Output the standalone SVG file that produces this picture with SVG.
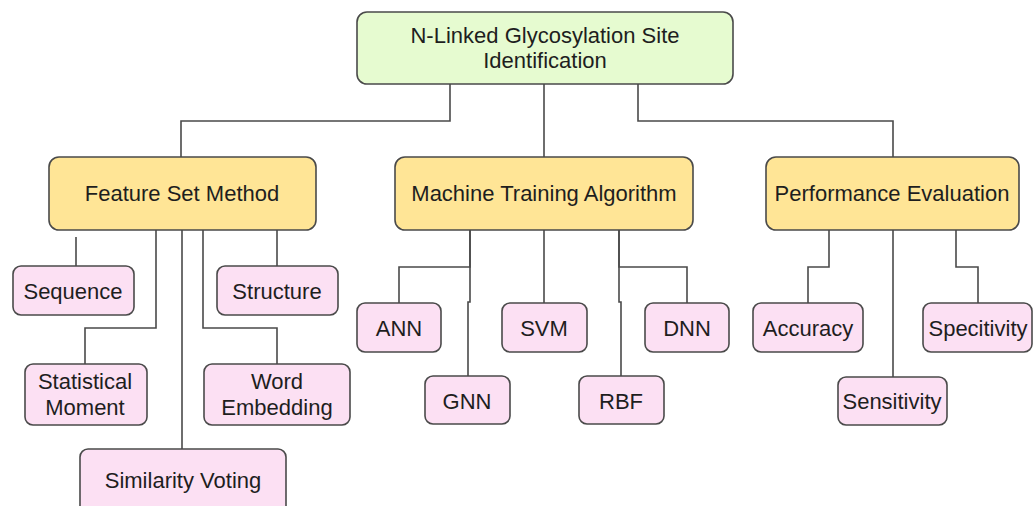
<svg xmlns="http://www.w3.org/2000/svg" width="1034" height="506" viewBox="0 0 1034 506">
<style>
rect.n{stroke:#4a4a4a;stroke-width:1.6}
.root{fill:#e6fbd0}
.cat{fill:#ffe596}
.leaf{fill:#fce0f3}
text{font-family:"Liberation Sans",Arial,sans-serif;font-size:22px;fill:#1e1e1e;text-anchor:middle;dominant-baseline:central}
#connectors path{fill:none;stroke:#4a4a4a;stroke-width:1.6}
</style>
<rect width="1034" height="506" fill="#fff"/>
<g id="connectors">
<path d="M450 84V121H181V157"/>
<path d="M544 84V157"/>
<path d="M638 84V121H893V157"/>
<path d="M76 237V266"/>
<path d="M277 230V266"/>
<path d="M156 230V328H85V364"/>
<path d="M203 230V328H277V364"/>
<path d="M182 230V449"/>
<path d="M470 230V267H399V303"/>
<path d="M470 230V302H468V376"/>
<path d="M544 230V303"/>
<path d="M619 230V302H621V376"/>
<path d="M619 230V267H687V303"/>
<path d="M829 230V267H808V303"/>
<path d="M956 230V267H978V303"/>
<path d="M893 230V377"/>
</g>
<g id="root"><rect class="n root" x="357" y="12" width="376" height="72" rx="10"/><text x="545" y="35">N-Linked Glycosylation Site</text><text x="545" y="60">Identification</text></g>
<g id="feature"><rect class="n cat" x="49" y="157" width="267" height="73" rx="10"/><text x="182" y="193">Feature Set Method</text></g>
<g id="machine"><rect class="n cat" x="395" y="157" width="298" height="73" rx="10"/><text x="544" y="193">Machine Training Algorithm</text></g>
<g id="performance"><rect class="n cat" x="766" y="157" width="253" height="73" rx="10"/><text x="892" y="193">Performance Evaluation</text></g>
<g id="sequence"><rect class="n leaf" x="13" y="266" width="121" height="49" rx="8"/><text x="73" y="291">Sequence</text></g>
<g id="structure"><rect class="n leaf" x="217" y="266" width="121" height="49" rx="8"/><text x="277" y="291">Structure</text></g>
<g id="statistical"><rect class="n leaf" x="25" y="364" width="122" height="61" rx="8"/><text x="85" y="381">Statistical</text><text x="85" y="407">Moment</text></g>
<g id="word"><rect class="n leaf" x="204" y="364" width="146" height="61" rx="8"/><text x="277" y="381">Word</text><text x="277" y="407">Embedding</text></g>
<g id="similarity"><rect class="n leaf" x="80" y="449" width="206" height="70" rx="8"/><text x="183" y="480">Similarity Voting</text></g>
<g id="ann"><rect class="n leaf" x="357" y="303" width="84" height="49" rx="8"/><text x="399" y="328">ANN</text></g>
<g id="gnn"><rect class="n leaf" x="425" y="376" width="85" height="48" rx="8"/><text x="467" y="401">GNN</text></g>
<g id="svm"><rect class="n leaf" x="502" y="303" width="85" height="49" rx="8"/><text x="544" y="328">SVM</text></g>
<g id="rbf"><rect class="n leaf" x="579" y="376" width="85" height="48" rx="8"/><text x="621" y="401">RBF</text></g>
<g id="dnn"><rect class="n leaf" x="645" y="303" width="84" height="49" rx="8"/><text x="687" y="328">DNN</text></g>
<g id="accuracy"><rect class="n leaf" x="753" y="303" width="110" height="49" rx="8"/><text x="808" y="328">Accuracy</text></g>
<g id="specitivity"><rect class="n leaf" x="923" y="303" width="109" height="49" rx="8"/><text x="978" y="328">Specitivity</text></g>
<g id="sensitivity"><rect class="n leaf" x="838" y="377" width="109" height="48" rx="8"/><text x="892" y="401">Sensitivity</text></g>
</svg>
